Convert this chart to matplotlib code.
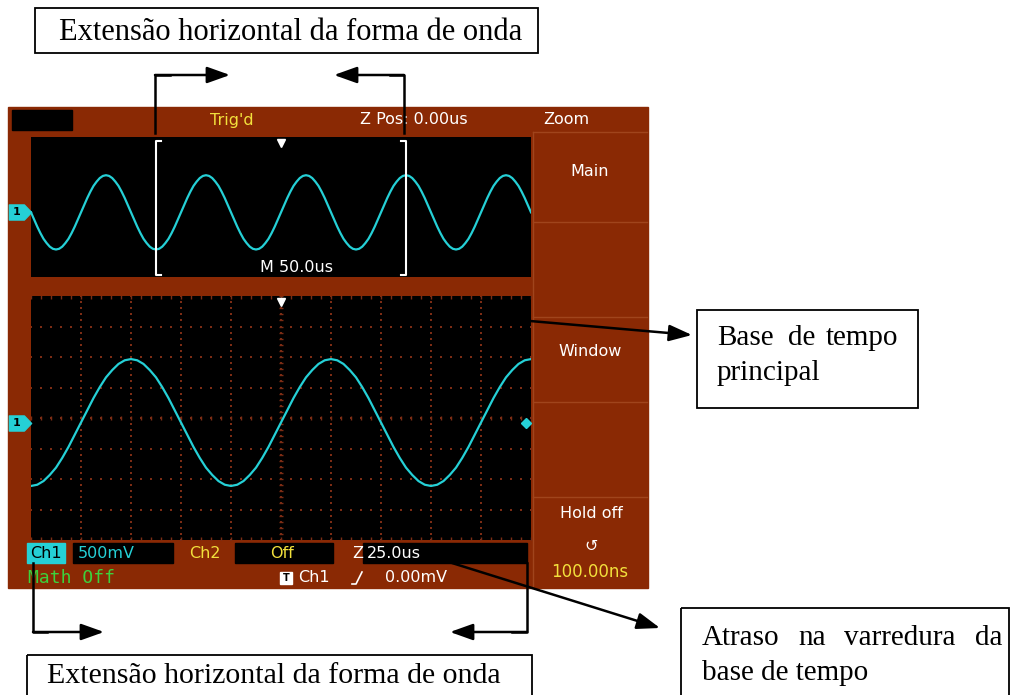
import numpy as np
import matplotlib.pyplot as plt
from matplotlib.patches import Rectangle
from matplotlib.path import Path
from matplotlib.transforms import blended_transform_factory

W, H = 1011, 695

# channel 1 signal, one sample every 3.125 us from -250 us to +250 us (trigger at t = 0)
t_us = np.arange(-250, 250.01, 3.125)
ch1_volts = [
    0.0, -0.20, -0.40, -0.58, -0.74, -0.86, -0.96, -1.02, -1.04, -1.02, -0.96, -0.86, -0.74, -0.58, -0.40, -0.20,
    0.0, 0.20, 0.40, 0.58, 0.74, 0.86, 0.96, 1.02, 1.04, 1.02, 0.96, 0.86, 0.74, 0.58, 0.40, 0.20,
    0.0, -0.20, -0.40, -0.58, -0.74, -0.86, -0.96, -1.02, -1.04, -1.02, -0.96, -0.86, -0.74, -0.58, -0.40, -0.20,
    0.0, 0.20, 0.40, 0.58, 0.74, 0.86, 0.96, 1.02, 1.04, 1.02, 0.96, 0.86, 0.74, 0.58, 0.40, 0.20,
    0.0, -0.20, -0.40, -0.58, -0.74, -0.86, -0.96, -1.02, -1.04, -1.02, -0.96, -0.86, -0.74, -0.58, -0.40, -0.20,
    0.0, 0.20, 0.40, 0.58, 0.74, 0.86, 0.96, 1.02, 1.04, 1.02, 0.96, 0.86, 0.74, 0.58, 0.40, 0.20,
    0.0, -0.20, -0.40, -0.58, -0.74, -0.86, -0.96, -1.02, -1.04, -1.02, -0.96, -0.86, -0.74, -0.58, -0.40, -0.20,
    0.0, 0.20, 0.40, 0.58, 0.74, 0.86, 0.96, 1.02, 1.04, 1.02, 0.96, 0.86, 0.74, 0.58, 0.40, 0.20,
    0.0, -0.20, -0.40, -0.58, -0.74, -0.86, -0.96, -1.02, -1.04, -1.02, -0.96, -0.86, -0.74, -0.58, -0.40, -0.20,
    0.0, 0.20, 0.40, 0.58, 0.74, 0.86, 0.96, 1.02, 1.04, 1.02, 0.96, 0.86, 0.74, 0.58, 0.40, 0.20,
    0.0,
]

main_us_per_div = 50.0
zoom_us_per_div = 25.0
n_hdiv = 10
n_vdiv = 8
trig_level_v = 0.0

header = ["Trig'd", "Z Pos: 0.00us", "Zoom"]
menu = ["Main", "Window", "Hold off", "100.00ns"]
status1 = ["Ch1", "500mV", "Ch2", "Off", "Z", "25.0us"]
status2 = ["Math Off", "Ch1", "0.00mV"]
main_label = "M 50.0us"
note_span = "Extensão horizontal da forma de onda"
note_base = ["Base", "de", "tempo", "principal"]
note_delay = ["Atraso", "na", "varredura", "da", "base de tempo"]

BROWN = '#8a2904'
EDGE = '#a0441c'
CYAN = '#25d0d6'
YELLOW = '#f2e03c'
GREEN = '#3cd23c'
GRID = '#7c2c14'
SERIF = 'Liberation Serif'
SCOPE = 'DejaVu Sans'
FS = 11.5

fig = plt.figure(figsize=(W / 100, H / 100), dpi=100)
base = fig.add_axes([0, 0, 1, 1])
base.set_xlim(0, W)
base.set_ylim(H, 0)
base.axis('off')


def px_axes(x0, y0, x1, y1):
    a = fig.add_axes([x0 / W, 1 - y1 / H, (x1 - x0) / W, (y1 - y0) / H])
    a.set_facecolor('black')
    a.set_xticks([])
    a.set_yticks([])
    for s in a.spines.values():
        s.set_visible(False)
    return a


# scope body
base.add_patch(Rectangle((8, 107), 640, 481, color=BROWN))
base.add_patch(Rectangle((12, 110), 60, 20, color='black'))
for yy in [132, 222, 317, 402, 497]:
    base.plot([533, 647], [yy, yy], color=EDGE, lw=1)
base.plot([533, 533], [132, 586], color=EDGE, lw=1)

base.text(232, 120, header[0], color=YELLOW, fontsize=FS, family=SCOPE, ha='center', va='center')
base.text(360, 120, header[1], color='white', fontsize=FS, family=SCOPE, ha='left', va='center')
base.text(543, 120, header[2], color='white', fontsize=FS, family=SCOPE, ha='left', va='center')
base.text(590, 172, menu[0], color='white', fontsize=FS, family=SCOPE, ha='center', va='center')
base.text(590, 352, menu[1], color='white', fontsize=FS, family=SCOPE, ha='center', va='center')
base.text(591, 513, menu[2], color='white', fontsize=FS, family=SCOPE, ha='center', va='center')
base.text(591, 546, '\u21ba', color='white', fontsize=FS, family=SCOPE, ha='center', va='center')
base.text(590, 572, menu[3], color=YELLOW, fontsize=12, family=SCOPE, ha='center', va='center')

# status rows
base.add_patch(Rectangle((27, 543), 38, 20, color=CYAN))
base.add_patch(Rectangle((73, 543), 100, 20, color='black'))
base.add_patch(Rectangle((235, 543), 98, 20, color='black'))
base.add_patch(Rectangle((363, 543), 164, 20, color='black'))
base.text(46, 553, status1[0], color='black', fontsize=FS, family=SCOPE, ha='center', va='center')
base.text(78, 553, status1[1], color=CYAN, fontsize=FS, family=SCOPE, ha='left', va='center')
base.text(205, 553, status1[2], color=YELLOW, fontsize=FS, family=SCOPE, ha='center', va='center')
base.text(282, 553, status1[3], color=YELLOW, fontsize=FS, family=SCOPE, ha='center', va='center')
base.text(358, 553, status1[4], color='white', fontsize=FS, family=SCOPE, ha='center', va='center')
base.text(367, 553, status1[5], color='white', fontsize=FS, family=SCOPE, ha='left', va='center')
base.text(28, 578, status2[0], color=GREEN, fontsize=13, family='DejaVu Sans Mono', ha='left', va='center')
base.add_patch(Rectangle((280, 572), 12, 12, color='white'))
base.text(286, 578, 'T', color='black', fontsize=7, family=SCOPE, ha='center', va='center', weight='bold')
base.text(298, 578, status2[1], color='white', fontsize=FS, family=SCOPE, ha='left', va='center')
base.plot([352, 356, 362], [584, 584, 572], color='white', lw=1.2)
base.text(385, 578, status2[2], color='white', fontsize=FS, family=SCOPE, ha='left', va='center')

# channel marker shape
ch_marker = Path([(-1, -0.68), (0.35, -0.68), (1, 0), (0.35, 0.68), (-1, 0.68), (-1, -0.68)],
                 [Path.MOVETO, Path.LINETO, Path.LINETO, Path.LINETO, Path.LINETO, Path.CLOSEPOLY])


def channel_tag(ax):
    tr = blended_transform_factory(ax.transAxes, ax.transData)
    ax.plot(-0.023, 0, marker=ch_marker, ms=16, color=CYAN, transform=tr, clip_on=False)
    ax.text(-0.028, 0, '1', color='black', fontsize=8, family=SCOPE, weight='bold',
            ha='center', va='center', transform=tr, clip_on=False)


# main (top) screen
half_main = main_us_per_div * n_hdiv / 2
top = px_axes(31, 137, 531, 277)
top.set_xlim(-half_main, half_main)
top.set_ylim(-1.81, 2.11)
top.plot(t_us, ch1_volts, color=CYAN, lw=1.6)
zoom_half = zoom_us_per_div * n_hdiv / 2
bt = blended_transform_factory(top.transData, top.transAxes)
for edge, d in [(-zoom_half, 5), (zoom_half, -5)]:
    top.plot([edge + d, edge, edge, edge + d], [0.975, 0.975, 0.015, 0.015],
             color='white', lw=1.5, transform=bt)
top.plot(0, 0.955, marker='v', ms=6, color='white', transform=bt)
top.text(0.53, 0.07, main_label, color='white', fontsize=FS, family=SCOPE,
         ha='center', va='center', transform=top.transAxes)
channel_tag(top)

# zoomed (bottom) screen with graticule
bot = px_axes(31, 296, 531, 540)
bot.set_xlim(-zoom_half, zoom_half)
bot.set_ylim(-1.926, 2.074)
xx = np.linspace(0, 1, n_hdiv * 5 + 1)
yy = np.linspace(0, 1, n_vdiv * 5 + 1)
for i in range(1, n_hdiv):
    bot.scatter(np.full_like(yy, i / n_hdiv), yy, s=1.0, marker='s', color=GRID,
                transform=bot.transAxes, linewidths=0)
for j in range(1, n_vdiv):
    bot.scatter(xx, np.full_like(xx, j / n_vdiv), s=1.0, marker='s', color=GRID,
                transform=bot.transAxes, linewidths=0)
bot.scatter(xx, np.full_like(xx, 0.5), s=12, marker='|', color=GRID, transform=bot.transAxes, linewidths=1)
bot.scatter(np.full_like(yy, 0.5), yy, s=12, marker='_', color=GRID, transform=bot.transAxes, linewidths=1)
bot.scatter(xx, np.full_like(xx, 0.995), s=8, marker='|', color=GRID, transform=bot.transAxes, linewidths=1)
bot.scatter(xx, np.full_like(xx, 0.005), s=8, marker='|', color=GRID, transform=bot.transAxes, linewidths=1)
bot.plot(t_us, ch1_volts, color=CYAN, lw=1.6)
bb = blended_transform_factory(bot.transData, bot.transAxes)
bot.plot(0, 0.975, marker='v', ms=6, color='white', transform=bb)
bot.plot(zoom_half * 0.98, trig_level_v, marker='D', ms=5, color=CYAN, clip_on=False)
channel_tag(bot)

# annotation boxes
base.add_patch(Rectangle((35, 8), 503, 45, fill=False, ec='black', lw=1.3))
base.text(291, 32, note_span, family=SERIF, fontsize=22, ha='center', va='center')

base.add_patch(Rectangle((697, 310), 221, 98, fill=False, ec='black', lw=1.3))
base.text(717, 338, note_base[0], family=SERIF, fontsize=21, ha='left', va='center')
base.text(802, 338, note_base[1], family=SERIF, fontsize=21, ha='center', va='center')
base.text(898, 338, note_base[2], family=SERIF, fontsize=21, ha='right', va='center')
base.text(717, 373, note_base[3], family=SERIF, fontsize=21, ha='left', va='center')

base.add_patch(Rectangle((681, 608), 328, 100, fill=False, ec='black', lw=1.3))
base.text(702, 638, note_delay[0], family=SERIF, fontsize=21, ha='left', va='center')
base.text(812, 638, note_delay[1], family=SERIF, fontsize=21, ha='center', va='center')
base.text(900, 638, note_delay[2], family=SERIF, fontsize=21, ha='center', va='center')
base.text(1002, 638, note_delay[3], family=SERIF, fontsize=21, ha='right', va='center')
base.text(702, 673, note_delay[4], family=SERIF, fontsize=21, ha='left', va='center')

base.add_patch(Rectangle((27, 655), 505, 45, fill=False, ec='black', lw=1.3))
base.text(274, 676, note_span, family=SERIF, fontsize=21.5, ha='center', va='center')

# arrows on top of everything
over = fig.add_axes([0, 0, 1, 1])
over.set_xlim(0, W)
over.set_ylim(H, 0)
over.axis('off')
arr = dict(arrowstyle='-|>,head_length=1.4,head_width=0.5', color='black', lw=1.8,
           mutation_scale=10, shrinkA=0, shrinkB=0)


def elbow(x, y0, y1, x_tip):
    over.plot([x, x, x + (x_tip - x) * 0.2], [y0, y1, y1], color='black', lw=1.8)
    over.annotate('', xy=(x_tip, y1), xytext=(x, y1), arrowprops=arr)


elbow(155, 133, 75, 230)
elbow(404, 133, 75, 334)
elbow(33, 563, 632, 104)
elbow(527, 563, 632, 450)
over.annotate('', xy=(692, 335), xytext=(530, 321), arrowprops=arr)
over.annotate('', xy=(660, 628), xytext=(452, 563), arrowprops=arr)

fig.savefig('out.png', dpi=100)
